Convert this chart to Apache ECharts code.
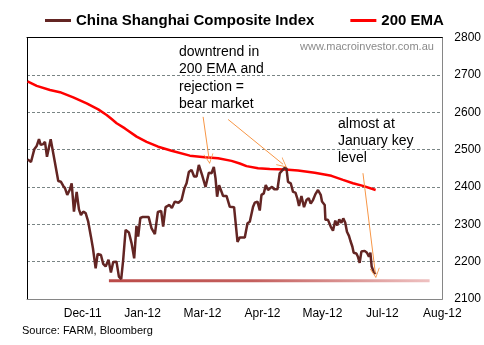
<!DOCTYPE html>
<html><head><meta charset="utf-8">
<script src="https://cdn.jsdelivr.net/npm/echarts@6/dist/echarts.min.js"></script>
<style>html,body{margin:0;padding:0;background:#fff}#c{width:484px;height:345px}</style>
</head><body><div id="c"></div>
<script>
// x values are calendar days counted from the left edge of the plot
var tickDays = [39, 81, 123, 165, 207, 249, 291];
var tickLabels = ['Dec-11', 'Jan-12', 'Mar-12', 'Apr-12', 'May-12', 'Jul-12', 'Aug-12'];

var shDays = [0.5,2.8,3.7,5.1,6.8,8.4,9.6,11.4,12.6,14,15.4,16.6,18,19.6,20.8,21.9,23.8,25.4,26.6,28.2,29.9,31.3,32.9,34.8,36.4,37.8,39.4,41.1,42.9,44.8,46.2,48.1,49.5,51.8,53.4,55.1,57.1,58.8,60.4,62.7,64.4,66,67.4,69.1,71.4,73.3,75.1,76.7,77.9,79.4,81.2,85.2,87.3,88.6,89.6,91.7,94,95.4,97.1,99.8,101.5,103.6,105,106.1,108.3,110.3,111.8,113.4,115.3,117.1,118.8,120.4,121.8,122.7,125.1,127.4,129.3,130.9,132.1,133.2,134.6,135.8,137.4,139.8,142.1,145.1,146.1,147.5,149.1,152.6,154.5,156.1,157.3,158.4,159.6,161.5,163.1,164.3,165.9,167.3,168.9,170.1,171.7,173.1,175.5,177.1,178.7,180.1,181.8,182.9,184.8,186.4,188.1,189.5,190.6,192.3,194.1,195.8,197.4,198.8,200.4,202.1,203.9,205.8,206.7,208.6,209.1,210.9,212.8,214.4,216,217.4,218.8,220.3,221.6,223,224.2,225.6,226.6,228,228.9,230.8,231.9,233.1,234.3,236.6,238.2,239.6,240.6,241.5,242.9,244.3];
var shValues = [2474,2467,2468,2501,2510,2528,2513,2515,2521,2481,2481,2528,2528,2465,2463,2416,2414,2403,2397,2379,2392,2410,2334,2387,2340,2325,2334,2330,2307,2267,2236,2182,2221,2218,2194,2187,2205,2171,2199,2200,2160,2153,2205,2285,2278,2249,2209,2296,2267,2317,2320,2320,2289,2285,2274,2333,2336,2294,2346,2352,2344,2361,2357,2358,2365,2397,2410,2440,2446,2428,2428,2459,2454,2432,2400,2438,2437,2454,2423,2374,2405,2401,2376,2376,2347,2346,2307,2253,2265,2265,2303,2307,2312,2347,2358,2361,2337,2379,2383,2405,2392,2392,2401,2394,2394,2437,2444,2450,2450,2414,2410,2387,2385,2368,2349,2376,2346,2365,2370,2356,2365,2381,2392,2379,2361,2352,2312,2312,2294,2283,2310,2297,2313,2304,2316,2304,2280,2269,2256,2240,2224,2222,2213,2197,2227,2229,2224,2213,2224,2187,2173,2167];

var emaDays = [0.35,6.8,16.1,23.1,32.4,41.8,49.9,55.8,59.3,62.8,68.6,76.8,83.8,91.9,101.3,114.1,124.6,133.9,143.3,149.1,153.8,161.9,170.1,180.6,189.9,201.6,213.3,221.4,228.4,235.4,244.3];
var emaValues = [2683,2671,2660,2654,2640,2624,2608,2593,2582,2571,2557,2535,2521,2508,2497,2484,2480,2477,2470,2463,2456,2450,2448,2447,2444,2438,2430,2419,2410,2403,2392];

var supportDays = [57.4, 282.1];
var supportValue = 2149;

// annotation arrows: [startDay, startValue, endDay, endValue]
var arrows = [
  [123.4, 2588, 127.6, 2475],
  [140.9, 2581, 179.4, 2461],
  [235.4, 2437, 244.1, 2169]
];

function zip(a, b) { return a.map(function (d, i) { return [d, b[i]]; }); }

var chart = echarts.init(document.getElementById('c'));
var FONT = 'Liberation Sans';
var arrowHead = 'path://M0,0 L6,11 L5,11 L0,2 L-5,11 L-6,11 Z';

chart.setOption({
  animation: false,
  textStyle: { fontFamily: FONT },
  grid: { left: 27, right: 41.3, top: 37.7, bottom: 46, containLabel: false },
  legend: {
    data: ['China Shanghai Composite Index', '200 EMA'],
    left: 40, top: 8,
    icon: 'rect', itemWidth: 26, itemHeight: 3, itemGap: 36,
    textStyle: { fontFamily: FONT, fontWeight: 'bold', fontSize: 15, color: '#000' }
  },
  xAxis: [{
    type: 'value', min: 0, max: 291, position: 'bottom',
    axisLine: { show: true, lineStyle: { color: '#868686', width: 1 } },
    axisTick: { show: false },
    splitLine: { show: false },
    axisLabel: {
      customValues: tickDays, margin: 9, fontSize: 12, color: '#000', fontFamily: FONT,
      formatter: function (v) { var i = tickDays.indexOf(v); return i >= 0 ? tickLabels[i] : ''; }
    }
  }, {
    type: 'value', min: 0, max: 291, position: 'top',
    axisLine: { show: true, onZero: false, lineStyle: { color: '#000', width: 1 } },
    axisTick: { show: false }, axisLabel: { show: false }, splitLine: { show: false }
  }],
  yAxis: [{
    type: 'value', min: 2100, max: 2800, interval: 100, position: 'right',
    axisLine: { show: true, onZero: false, lineStyle: { color: '#868686', width: 1 } },
    axisTick: { show: false },
    axisLabel: { margin: 12, fontSize: 12, color: '#000', fontFamily: FONT,
      formatter: function (v) { return String(v); } },
    splitLine: { show: true, lineStyle: { color: '#7a8585', type: [3, 2], width: 1 } }
  }, {
    type: 'value', min: 2100, max: 2800, interval: 100, position: 'left',
    axisLine: { show: true, onZero: false, lineStyle: { color: '#000', width: 1 } },
    axisTick: { show: false }, axisLabel: { show: false }, splitLine: { show: false }
  }],
  series: [{
    name: 'Support', type: 'line', showSymbol: false, silent: true, z: 1,
    data: supportDays.map(function (d) { return [d, supportValue]; }),
    lineStyle: { width: 3, color: new echarts.graphic.LinearGradient(0, 0, 1, 0, [
      { offset: 0, color: '#bb4a48' }, { offset: 0.45, color: '#c4605e' }, { offset: 1, color: '#efc2c2' }
    ]) }
  }, {
    name: '200 EMA', type: 'line', showSymbol: false, z: 3,
    data: zip(emaDays, emaValues), color: '#ff0000',
    lineStyle: { width: 2.5, color: '#ff0000' }
  }, {
    name: 'China Shanghai Composite Index', type: 'line', showSymbol: false, z: 4,
    data: zip(shDays, shValues), color: '#632523',
    lineStyle: { width: 2.5, color: '#632523' }
  }, {
    name: 'arrows', type: 'line', data: [], silent: true, z: 5,
    markLine: {
      silent: true, animation: false,
      symbol: ['none', arrowHead], symbolSize: [10, 10],
      label: { show: false },
      lineStyle: { color: '#f79646', width: 1, type: 'solid' },
      data: arrows.map(function (a) { return [{ coord: [a[0], a[1]] }, { coord: [a[2], a[3]] }]; })
    }
  }],
  graphic: [
    { type: 'text', left: 179, top: 43, style: { text: 'downtrend in\n200 EMA and\nrejection =\nbear market', font: '14px "Liberation Sans"', fill: '#000', lineHeight: 17.5 } },
    { type: 'text', left: 300, top: 41, style: { text: 'www.macroinvestor.com.au', font: '11px "Liberation Sans"', fill: '#8a8a8a' } },
    { type: 'text', left: 338, top: 116, style: { text: 'almost at\nJanuary key\nlevel', font: '14px "Liberation Sans"', fill: '#000', lineHeight: 17 } },
    { type: 'text', left: 22, top: 325, style: { text: 'Source: FARM, Bloomberg', font: '11px "Liberation Sans"', fill: '#000' } }
  ]
});
</script></body></html>
